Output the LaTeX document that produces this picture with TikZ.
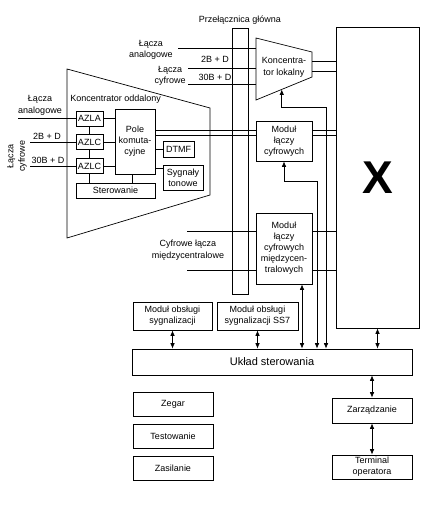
\documentclass[tikz,border=0pt]{standalone}
\usepackage{fontspec}
\setmainfont{Liberation Sans}
\usetikzlibrary{positioning, arrows.meta, calc}

\begin{document}
\begin{tikzpicture}[x=1pt, y=-1pt, line width=0.7pt,
    box/.style={draw, inner sep=0pt, align=center, font=\fontsize{9}{11}\selectfont},
    lbl/.style={inner sep=0pt, align=center, font=\fontsize{9}{11.5}\selectfont},
    link/.style={{Latex[length=5.5pt, width=4.5pt]}-{Latex[length=5.5pt, width=4.5pt]}}]
    \useasboundingbox (0,0) rectangle (440,508);

    % przelacznica glowna i pole komutacyjne X
    \node[box, minimum width=16, minimum height=266] (prz) at (240,161) {};
    \node[lbl, above=3pt of prz] (przl) {Przełącznica główna};
    \node[box, minimum width=83, minimum height=301, font=\fontsize{46}{46}\selectfont\bfseries] (x) at (377.5,177.5) {X};

    % koncentrator lokalny
    \coordinate (klA) at (256,38);
    \coordinate (klB) at (312,52);
    \coordinate (klC) at (312,77);
    \coordinate (klD) at (256,100);
    \draw (klA) -- (klB) -- (klC) -- (klD) -- cycle;
    \node[lbl] (kl) at (284,67.5) {Koncentra-\\tor lokalny};

    \node[lbl, anchor=east] (anl) at (173,50) {Łącza\\analogowe};
    \node[lbl, anchor=east] (cyf) at (186,76) {Łącza\\cyfrowe};
    \node[lbl] (bd) at (215,59) {2B + D};
    \node[lbl] (pd) at (215,77) {30B + D};
    \coordinate (ain) at (178,48);
    \coordinate (bin) at (188,68);
    \coordinate (pin) at (188,84);
    \draw (ain) -- (ain -| klA);
    \draw (bin) -- (bin -| klA);
    \draw (pin) -- (pin -| klA);
    \coordinate (klo1) at (312,61);
    \coordinate (klo2) at (312,71);
    \draw (klo1) -- (klo1 -| x.west);
    \draw (klo2) -- (klo2 -| x.west);

    % koncentrator oddalony
    \coordinate (koA) at (67,69);
    \coordinate (koB) at (210,108);
    \coordinate (koC) at (210,195);
    \coordinate (koD) at (67,238);
    \draw (koA) -- (koB) -- (koC) -- (koD) -- cycle;
    \node[lbl, anchor=west] (ko) at (70,99) {Koncentrator oddalony};

    \node[box, minimum width=27, minimum height=15] (azla) at (89.5,118.5) {AZLA};
    \node[box, minimum width=27, minimum height=15] (azlc1) at (89.5,142) {AZLC};
    \node[box, minimum width=27, minimum height=15] (azlc2) at (89.5,166) {AZLC};
    \node[box, minimum width=40, minimum height=65] (pole) at (135,141.5) {Pole\\komuta-\\cyjne};
    \node[box, minimum width=31, minimum height=16] (dtmf) at (178.5,149) {DTMF};
    \node[box, minimum width=40, minimum height=25] (syg) at (183,177.5) {Sygnały\\tonowe};
    \node[box, minimum width=79, minimum height=15] (ster) at (115.5,190.5) {Sterowanie};

    \draw (azla) -- (azlc1);
    \draw (azlc1) -- (azlc2);
    \draw (azlc2) -- (azlc2 |- ster.north);
    \draw (azla) -- (azla -| pole.west);
    \draw (azlc1) -- (azlc1 -| pole.west);
    \draw (azlc2) -- (azlc2 -| pole.west);
    \draw (dtmf) -- (dtmf -| pole.east);
    \draw ([yshift=9.5pt]syg.west) -- ([yshift=9.5pt]syg.west -| pole.east);
    \draw ([xshift=-3pt]pole.south) -- ([xshift=-3pt]pole.south |- ster.north);

    \node[lbl] (ana2) at (40,105.5) {Łącza\\analogowe};
    \node[lbl] (bd2) at (47,136) {2B + D};
    \node[lbl] (pd2) at (48,160) {30B + D};
    \node[lbl, rotate=90] (cyf2) at (17,156) {Łącza\\cyfrowe};
    \coordinate (ain2) at (18,118.5);
    \coordinate (bin2) at (30,142);
    \coordinate (pin2) at (30,166);
    \draw (ain2) -- (azla);
    \draw (bin2) -- (azlc1);
    \draw (pin2) -- (azlc2);

    % moduly laczy cyfrowych
    \node[box, minimum width=56, minimum height=40] (mlc) at (284,141) {Moduł\\łączy\\cyfrowych};
    \draw ([yshift=11pt]pole.east) -- ([yshift=11pt]pole.east -| mlc.west);
    \draw ([yshift=6pt]pole.east) -- ([yshift=6pt]pole.east -| mlc.west);
    \draw ([yshift=11pt]mlc.east) -- ([yshift=11pt]mlc.east -| x.west);
    \draw ([yshift=6pt]mlc.east) -- ([yshift=6pt]mlc.east -| x.west);

    \node[box, minimum width=56, minimum height=71] (mlm) at (284,248.5) {Moduł\\łączy\\cyfrowych\\międzycen-\\tralowych};
    \node[lbl] (mcl) at (188,250) {Cyfrowe łącza\\międzycentralowe};
    \coordinate (min1) at (187,231);
    \coordinate (min2) at (187,270);
    \draw (min1) -- (min1 -| mlm.west);
    \draw (min2) -- (min2 -| mlm.west);
    \draw (min1 -| mlm.east) -- (min1 -| x.west);
    \draw (min2 -| mlm.east) -- (min2 -| x.west);

    % sterowanie
    \node[box, minimum width=79, minimum height=28] (sig) at (172.5,316) {Moduł obsługi\\sygnalizacji};
    \node[box, minimum width=81, minimum height=28] (ss7) at (257.5,316) {Moduł obsługi\\sygnalizacji SS7};
    \node[box, minimum width=280, minimum height=26, font=\fontsize{11}{13}\selectfont] (uk) at (272,362) {Układ sterowania};
    \node[box, minimum width=80, minimum height=24] (zeg) at (173,404) {Zegar};
    \node[box, minimum width=80, minimum height=24] (test) at (173,436) {Testowanie};
    \node[box, minimum width=80, minimum height=24] (zas) at (173,468) {Zasilanie};
    \node[box, minimum width=80, minimum height=25] (zarz) at (372,410.5) {Zarządzanie};
    \node[box, minimum width=80, minimum height=24] (term) at (372,467) {Terminal\\operatora};

    \coordinate (klb) at ($(klD)!0.46!(klC)$);
    \coordinate (bus1) at (326,107);
    \coordinate (bus2) at (317,181);
    \draw[link] (klb) |- (bus1) -- (bus1 |- uk.north);
    \draw[link] (mlc.south) |- (bus2) -- (bus2 |- uk.north);
    \draw[link] ([xshift=18pt]mlm.south) -- ([xshift=18pt]mlm.south |- uk.north);
    \draw[link] (sig) -- (sig |- uk.north);
    \draw[link] (ss7) -- (ss7 |- uk.north);
    \draw[link] (x) -- (x |- uk.north);
    \draw[link] (uk.south -| zarz) -- (zarz);
    \draw[link] (zarz) -- (term);
\end{tikzpicture}
\end{document}
